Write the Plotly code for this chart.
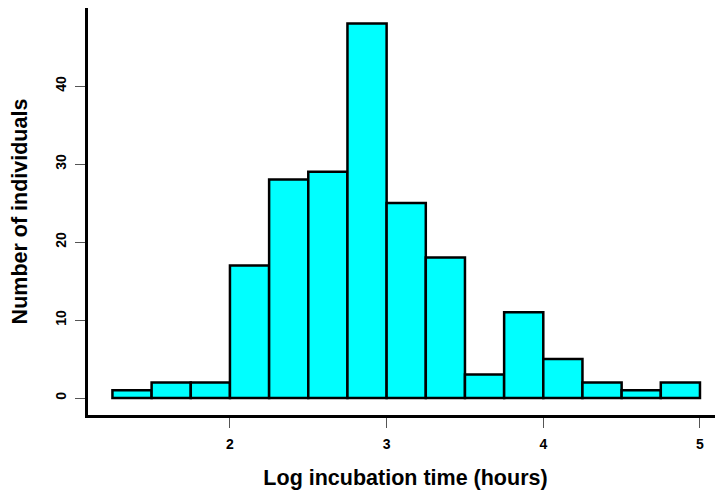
import plotly.graph_objects as go

bin_left = [1.25, 1.5, 1.75, 2.0, 2.25, 2.5, 2.75, 3.0, 3.25, 3.5, 3.75, 4.0, 4.25, 4.5, 4.75]
counts = [1, 2, 2, 17, 28, 29, 48, 25, 18, 3, 11, 5, 2, 1, 2]
bin_width = 0.25
x_ticks = [2, 3, 4, 5]
y_ticks = [0, 10, 20, 30, 40]

centers = [b + bin_width / 2 for b in bin_left]

fig = go.Figure(go.Bar(
    x=centers, y=counts, width=bin_width,
    marker=dict(color="#00FFFF", line=dict(color="black", width=2.5)),
))

# the page body has an 8px margin, so the figure is 8px smaller and margins reduced
font = "Liberation Sans, Arial, sans-serif"
fig.update_layout(
    width=715, height=483,
    margin=dict(l=80, r=0, t=0, b=76),
    plot_bgcolor="white", paper_bgcolor="white",
    showlegend=False,
    font=dict(family=font, color="black"),
    xaxis=dict(
        range=[1.094, 5.147], tickvals=x_ticks, ticktext=[str(v) for v in x_ticks],
        showgrid=False, zeroline=False, automargin=False,
        showline=True, linewidth=3, linecolor="black",
        ticks="outside", ticklen=10, tickwidth=1, tickcolor="#555",
        ticklabelstandoff=4,
        tickfont=dict(size=14, family=font, weight="bold"),
        title=dict(text="<b>Log incubation time (hours)</b>", font=dict(size=21.5, family=font), standoff=20),
    ),
    yaxis=dict(
        range=[-2.18, 50.0], tickvals=y_ticks, ticktext=[str(v) for v in y_ticks],
        showgrid=False, zeroline=False, automargin=False,
        showline=True, linewidth=3, linecolor="black",
        ticks="outside", ticklen=10, tickwidth=1, tickcolor="#555",
        tickangle=-90, ticklabelstandoff=3,
        tickfont=dict(size=14, family=font, weight="bold"),
        title=dict(text="<b>Number of individuals</b>", font=dict(size=21.5, family=font), standoff=24),
    ),
)

fig.write_html("out.html")
